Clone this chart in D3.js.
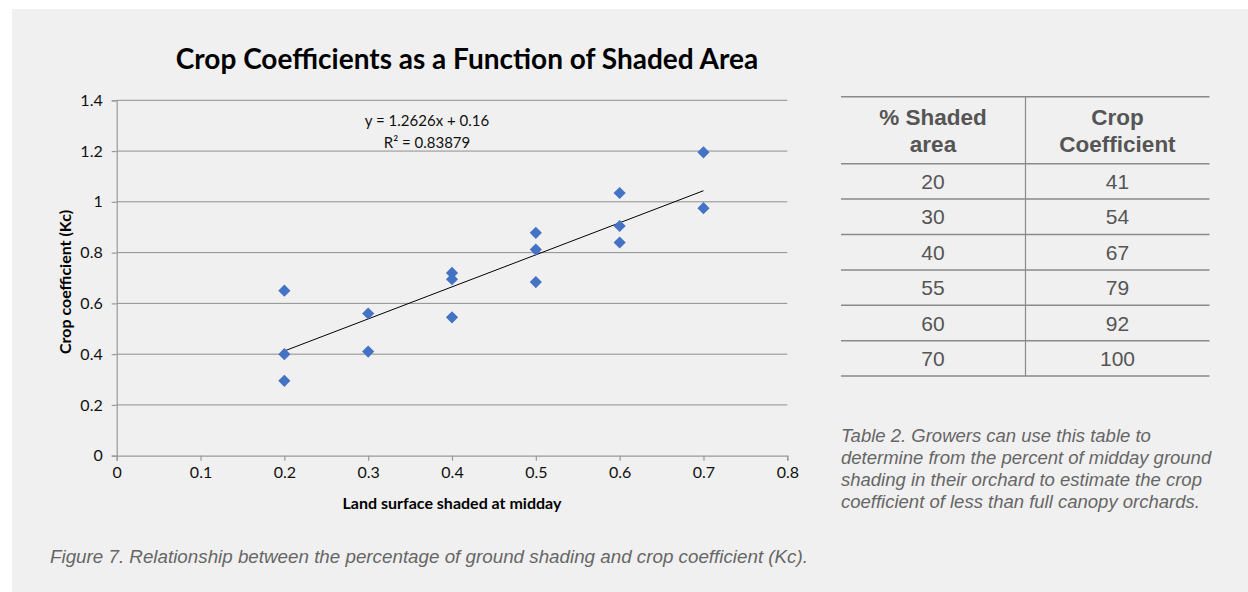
<!DOCTYPE html>
<html>
<head>
<meta charset="utf-8">
<script src="https://cdn.jsdelivr.net/npm/d3@7"></script>
<style>
  html, body { margin: 0; padding: 0; background: #ffffff; }
  svg { display: block; }
</style>
</head>
<body>
<svg id="chart" width="1248" height="592"></svg>
<script>
// ---- data ----
const shadeX = [0.2, 0.2, 0.2, 0.3, 0.3, 0.4, 0.4, 0.4, 0.5, 0.5, 0.5, 0.6, 0.6, 0.6, 0.7, 0.7];
const kcY    = [0.65, 0.40, 0.295, 0.56, 0.41, 0.72, 0.695, 0.545, 0.878, 0.812, 0.684, 1.035, 0.905, 0.84, 1.195, 0.975];
const xTicks = [0, 0.1, 0.2, 0.3, 0.4, 0.5, 0.6, 0.7, 0.8];
const yTicks = [0, 0.2, 0.4, 0.6, 0.8, 1, 1.2, 1.4];
const trendSlope = 1.2626;
const trendIntercept = 0.16;
const trendRange = [0.2, 0.7];
const equationLines = ["y = 1.2626x + 0.16", "R² = 0.83879"];
const tableHeaders = [["% Shaded", "area"], ["Crop", "Coefficient"]];
const tableShaded = [20, 30, 40, 55, 60, 70];
const tableKc = [41, 54, 67, 79, 92, 100];
const tableNote = [
  "Table 2. Growers can use this table to",
  "determine from the percent of midday ground",
  "shading in their orchard to estimate the crop",
  "coefficient of less than full canopy orchards."
];
const figCaption = "Figure 7. Relationship between the percentage of ground shading and crop coefficient (Kc).";
const chartTitle = "Crop Coefficients as a Function of Shaded Area";
const xTitle = "Land surface shaded at midday";
const yTitle = "Crop coefficient (Kc)";

// ---- drawing ----
const svg = d3.select("#chart");
const chartFont = "Lato, 'Open Sans', sans-serif";
const tableFont = "'Liberation Sans', Arial, sans-serif";

svg.append("rect").attr("x", 12).attr("y", 9).attr("width", 1236).attr("height", 583).attr("fill", "#f0f0f0");

const x = d3.scaleLinear().domain([0, 0.8]).range([116.7, 787.3]);
const y = d3.scaleLinear().domain([0, 1.4]).range([455.7, 100.3]);

// gridlines
svg.append("g").selectAll("line").data(yTicks.filter(d => d > 0)).join("line")
  .attr("x1", x(0)).attr("x2", x(0.8))
  .attr("y1", d => y(d)).attr("y2", d => y(d))
  .attr("stroke", "#8e8e8e").attr("stroke-width", 1);

// axes
const xAxis = svg.append("g").attr("transform", `translate(0,${y(0)})`)
  .call(d3.axisBottom(x).tickValues(xTicks).tickFormat(d3.format("")).tickSize(5).tickPadding(6));
const yAxis = svg.append("g").attr("transform", `translate(${x(0)},0)`)
  .call(d3.axisLeft(y).tickValues(yTicks).tickFormat(d3.format("")).tickSize(5).tickPadding(9));
[xAxis, yAxis].forEach(g => {
  g.select(".domain").attr("stroke", "#999").attr("stroke-width", 1.2);
  g.selectAll(".tick line").attr("stroke", "#999").attr("stroke-width", 1.2);
  g.selectAll(".tick text").attr("fill", "#111").attr("font-family", chartFont).attr("font-size", 16);
});
xAxis.selectAll(".tick text").attr("dy", "0.71em");

// trendline
const line = d3.line().x(d => x(d)).y(d => y(trendSlope * d + trendIntercept));
svg.append("path").datum(trendRange).attr("d", line)
  .attr("fill", "none").attr("stroke", "#000").attr("stroke-width", 1);

// points
svg.append("g").selectAll("path").data(shadeX.map((v, i) => [v, kcY[i]])).join("path")
  .attr("transform", d => `translate(${x(d[0])},${y(d[1])}) rotate(45)`)
  .attr("d", d3.symbol().type(d3.symbolSquare).size(74))
  .attr("fill", "#4472c4");

// equation
svg.append("g").selectAll("text").data(equationLines).join("text")
  .attr("x", 427).attr("y", (d, i) => 126 + i * 21.5)
  .attr("text-anchor", "middle")
  .attr("font-family", chartFont).attr("font-size", 15).attr("fill", "#111")
  .text(d => d);

// titles
svg.append("text").attr("x", 467).attr("y", 69).attr("text-anchor", "middle")
  .attr("font-family", chartFont).attr("font-weight", "bold").attr("font-size", 28).attr("fill", "#000")
  .text(chartTitle);
svg.append("text").attr("x", 452).attr("y", 509).attr("text-anchor", "middle")
  .attr("font-family", chartFont).attr("font-weight", "bold").attr("font-size", 16).attr("fill", "#000")
  .text(xTitle);
svg.append("text").attr("transform", "translate(71,282) rotate(-90)").attr("text-anchor", "middle")
  .attr("font-family", chartFont).attr("font-weight", "bold").attr("font-size", 16).attr("fill", "#000")
  .text(yTitle);

// table
const tbl = svg.append("g");
const tLeft = 841, tRight = 1209.5, tDiv = 1025.5, tTop = 96.7, tHeadBottom = 163.7, rowH = 35.4;
const colX = [933, 1117.5];
const rowLines = [tTop, tHeadBottom].concat(tableShaded.map((d, i) => tHeadBottom + (i + 1) * rowH));
tbl.selectAll("line.h").data(rowLines).join("line").attr("class", "h")
  .attr("x1", tLeft).attr("x2", tRight).attr("y1", d => d).attr("y2", d => d)
  .attr("stroke", "#8a8a8a").attr("stroke-width", 1.5);
tbl.append("line").attr("x1", tDiv).attr("x2", tDiv).attr("y1", tTop).attr("y2", rowLines[rowLines.length - 1])
  .attr("stroke", "#8a8a8a").attr("stroke-width", 1.2);
tableHeaders.forEach((lines, c) => {
  tbl.selectAll(null).data(lines).join("text")
    .attr("x", colX[c]).attr("y", (d, i) => 125 + i * 26.5)
    .attr("text-anchor", "middle").attr("font-family", tableFont).attr("font-weight", "bold")
    .attr("font-size", 22.5).attr("fill", "#555").text(d => d);
});
[tableShaded, tableKc].forEach((col, c) => {
  tbl.selectAll(null).data(col).join("text")
    .attr("x", colX[c]).attr("y", (d, i) => tHeadBottom + i * rowH + rowH / 2 + 7.5)
    .attr("text-anchor", "middle").attr("font-family", tableFont)
    .attr("font-size", 21).attr("fill", "#555").text(d => d);
});

// table note
svg.append("g").selectAll("text").data(tableNote).join("text")
  .attr("x", 841).attr("y", (d, i) => 442 + i * 22)
  .attr("font-family", tableFont).attr("font-style", "italic").attr("font-size", 18.5).attr("fill", "#666")
  .text(d => d);

// figure caption
svg.append("text").attr("x", 50).attr("y", 563)
  .attr("font-family", tableFont).attr("font-style", "italic").attr("font-size", 18.8).attr("fill", "#666")
  .text(figCaption);
</script>
</body>
</html>
